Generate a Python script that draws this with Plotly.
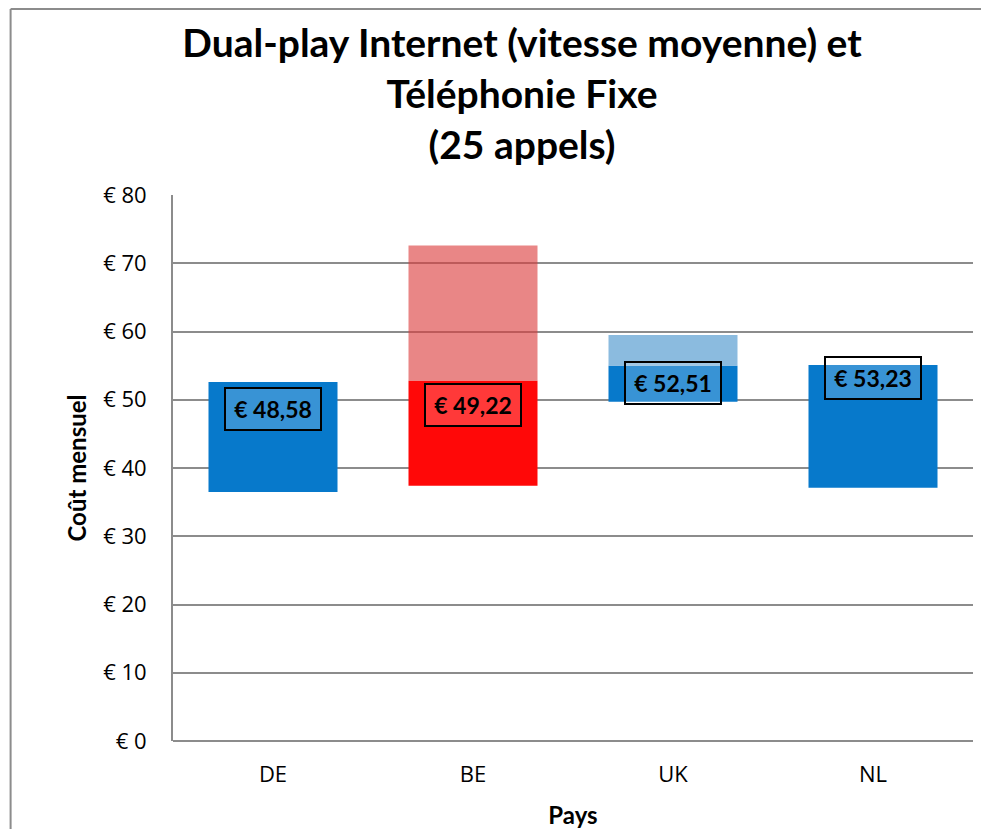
import plotly.graph_objects as go

pays = ["DE", "BE", "UK", "NL"]
cout_min = [36.5, 37.4, 49.7, 37.1]
cout_median = [52.6, 52.8, 55.0, 55.1]
cout_max = [52.6, 72.6, 59.5, 55.1]
cout_moyen = [48.58, 49.22, 52.51, 53.23]
labels_moyen = ["€ 48,58", "€ 49,22", "€ 52,51", "€ 53,23"]
y_ticks = [0, 10, 20, 30, 40, 50, 60, 70, 80]
y_ticktext = ["€ 0", "€ 10", "€ 20", "€ 30", "€ 40", "€ 50", "€ 60", "€ 70", "€ 80"]

dark_colors = ["#0779CB", "#FF0808", "#0779CB", "#0779CB"]
light_colors = ["rgba(0,0,0,0)", "rgba(220,60,60,0.62)", "rgba(110,170,215,0.80)", "rgba(0,0,0,0)"]

fig = go.Figure()

fig.add_trace(go.Bar(
    x=pays,
    y=[h - l for h, l in zip(cout_median, cout_min)],
    base=cout_min,
    marker=dict(color=dark_colors, line=dict(width=0)),
    width=0.645,
    hoverinfo="skip",
))
fig.add_trace(go.Bar(
    x=pays,
    y=[h - m for h, m in zip(cout_max, cout_median)],
    base=cout_median,
    marker=dict(color=light_colors, line=dict(width=0)),
    width=0.645,
    hoverinfo="skip",
))

for p, v, t in zip(pays, cout_moyen, labels_moyen):
    fig.add_annotation(
        x=p, y=v, text="<b>" + t + "</b>", showarrow=False,
        font=dict(family="Lato, Noto Sans, sans-serif", size=23, color="black"),
        bgcolor="rgba(255,255,255,0.2)", bordercolor="black", borderwidth=2,
        borderpad=6, width=82,
    )

# outer chart border (top and left edges only, the rest falls outside the picture)
fig.add_shape(type="line", xref="paper", yref="paper",
              x0=-0.203, x1=1.03, y0=1.3407, y1=1.3407,
              line=dict(color="#8C8C8C", width=2), layer="below")
fig.add_shape(type="line", xref="paper", yref="paper",
              x0=-0.203, x1=-0.203, y0=-0.2, y1=1.3407,
              line=dict(color="#8C8C8C", width=2), layer="below")

# page body has an 8px margin, so the figure is a bit smaller than the window
fig.update_layout(
    width=981, height=821,
    margin=dict(l=165, r=16, t=187, b=88),
    paper_bgcolor="white", plot_bgcolor="white",
    barmode="overlay",
    showlegend=False,
    font=dict(family="Lato, Noto Sans, sans-serif", color="black"),
    title=dict(
        text="<b>Dual-play Internet (vitesse moyenne) et<br>Téléphonie Fixe<br>(25 appels)</b>",
        x=0.524, xanchor="center", y=0.940, yanchor="middle",
        font=dict(family="Lato, Noto Sans, sans-serif", size=39, color="black"),
    ),
    xaxis=dict(
        showgrid=False, showline=False, ticks="", automargin=False,
        ticklabelstandoff=18,
        tickfont=dict(size=22, family="Open Sans, Noto Sans, sans-serif"),
        title=dict(text="<b>Pays</b>", font=dict(size=24), standoff=20),
    ),
    yaxis=dict(
        range=[0, 80], tickvals=y_ticks, ticktext=y_ticktext, automargin=False,
        showgrid=True, gridcolor="#8C8C8C", gridwidth=2,
        showline=True, linecolor="#8C8C8C", linewidth=2,
        zeroline=True, zerolinecolor="#8C8C8C", zerolinewidth=2,
        ticks="", ticklabelstandoff=20,
        tickfont=dict(size=22, family="Open Sans, Noto Sans, sans-serif"),
        title=dict(text="<b>Coût mensuel</b>", font=dict(size=24), standoff=10),
    ),
)

fig.write_html("out.html")
